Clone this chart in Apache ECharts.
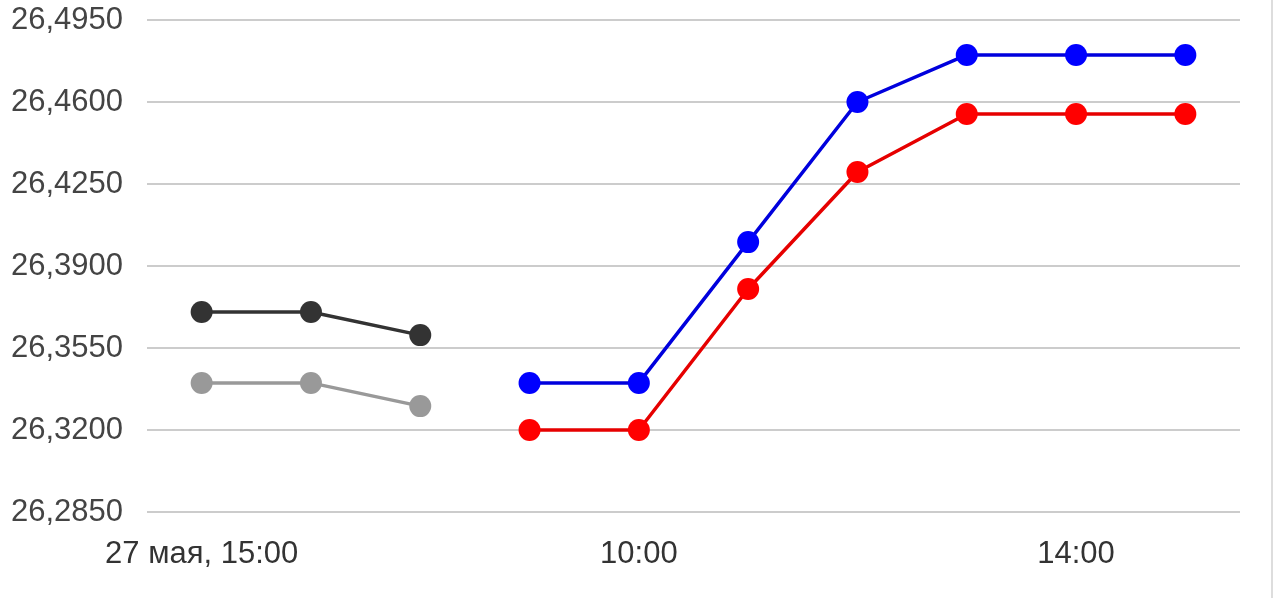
<!DOCTYPE html>
<html>
<head>
<meta charset="utf-8">
<script src="https://cdn.jsdelivr.net/npm/echarts@6/dist/echarts.min.js"></script>
<style>
  html, body { margin: 0; padding: 0; background: #fff; }
  #chart { width: 1279px; height: 598px; }
</style>
</head>
<body>
<div id="chart"></div>
<script>
const categories = ["27 мая, 15:00", "16:00", "17:00", "9:00", "10:00", "11:00", "12:00", "13:00", "14:00", "15:00"];
const blackValues = [26.3704, 26.3704, 26.3605, "-", "-", "-", "-", "-", "-", "-"];
const grayValues = [26.3401, 26.3401, 26.3302, "-", "-", "-", "-", "-", "-", "-"];
const blueValues = ["-", "-", "-", 26.3401, 26.3401, 26.4002, 26.46, 26.4801, 26.4801, 26.4801];
const redValues = ["-", "-", "-", 26.32, 26.32, 26.3802, 26.4301, 26.4549, 26.4549, 26.4549];

const fontFamily = 'Arial, "Liberation Sans", sans-serif';

function lineSeries(name, color, lineColor, data) {
  return {
    name: name,
    type: "line",
    data: data,
    symbol: "circle",
    symbolSize: 22,
    showSymbol: true,
    lineStyle: { color: lineColor, width: 3.5 },
    itemStyle: { color: color },
    animation: false,
  };
}

const chart = echarts.init(document.getElementById("chart"));
chart.setOption({
  backgroundColor: "#fff",
  grid: { left: 147, right: 39, top: 20, bottom: 86 },
  xAxis: {
    type: "category",
    data: categories,
    boundaryGap: true,
    axisLine: { show: false },
    axisTick: { show: false },
    axisLabel: {
      interval: 3,
      margin: 27,
      color: "#333",
      fontSize: 31,
      fontFamily: fontFamily,
    },
  },
  yAxis: {
    type: "value",
    min: 26.285,
    max: 26.495,
    interval: 0.035,
    axisLine: { show: false },
    axisTick: { show: false },
    splitLine: { lineStyle: { color: "#ccc", width: 2 } },
    axisLabel: {
      margin: 24,
      color: "#444",
      fontSize: 31,
      fontFamily: fontFamily,
      formatter: (v) => v.toFixed(4).replace(".", ","),
    },
  },
  graphic: [
    {
      type: "rect",
      shape: { x: 1271, y: 0, width: 2, height: 598 },
      style: { fill: "#ddd" },
    },
  ],
  series: [
    lineSeries("black", "#333", "#333", blackValues),
    lineSeries("gray", "#999", "#999", grayValues),
    lineSeries("blue", "#0000ff", "#0000dd", blueValues),
    lineSeries("red", "#ff0000", "#e60000", redValues),
  ],
});
</script>
</body>
</html>
